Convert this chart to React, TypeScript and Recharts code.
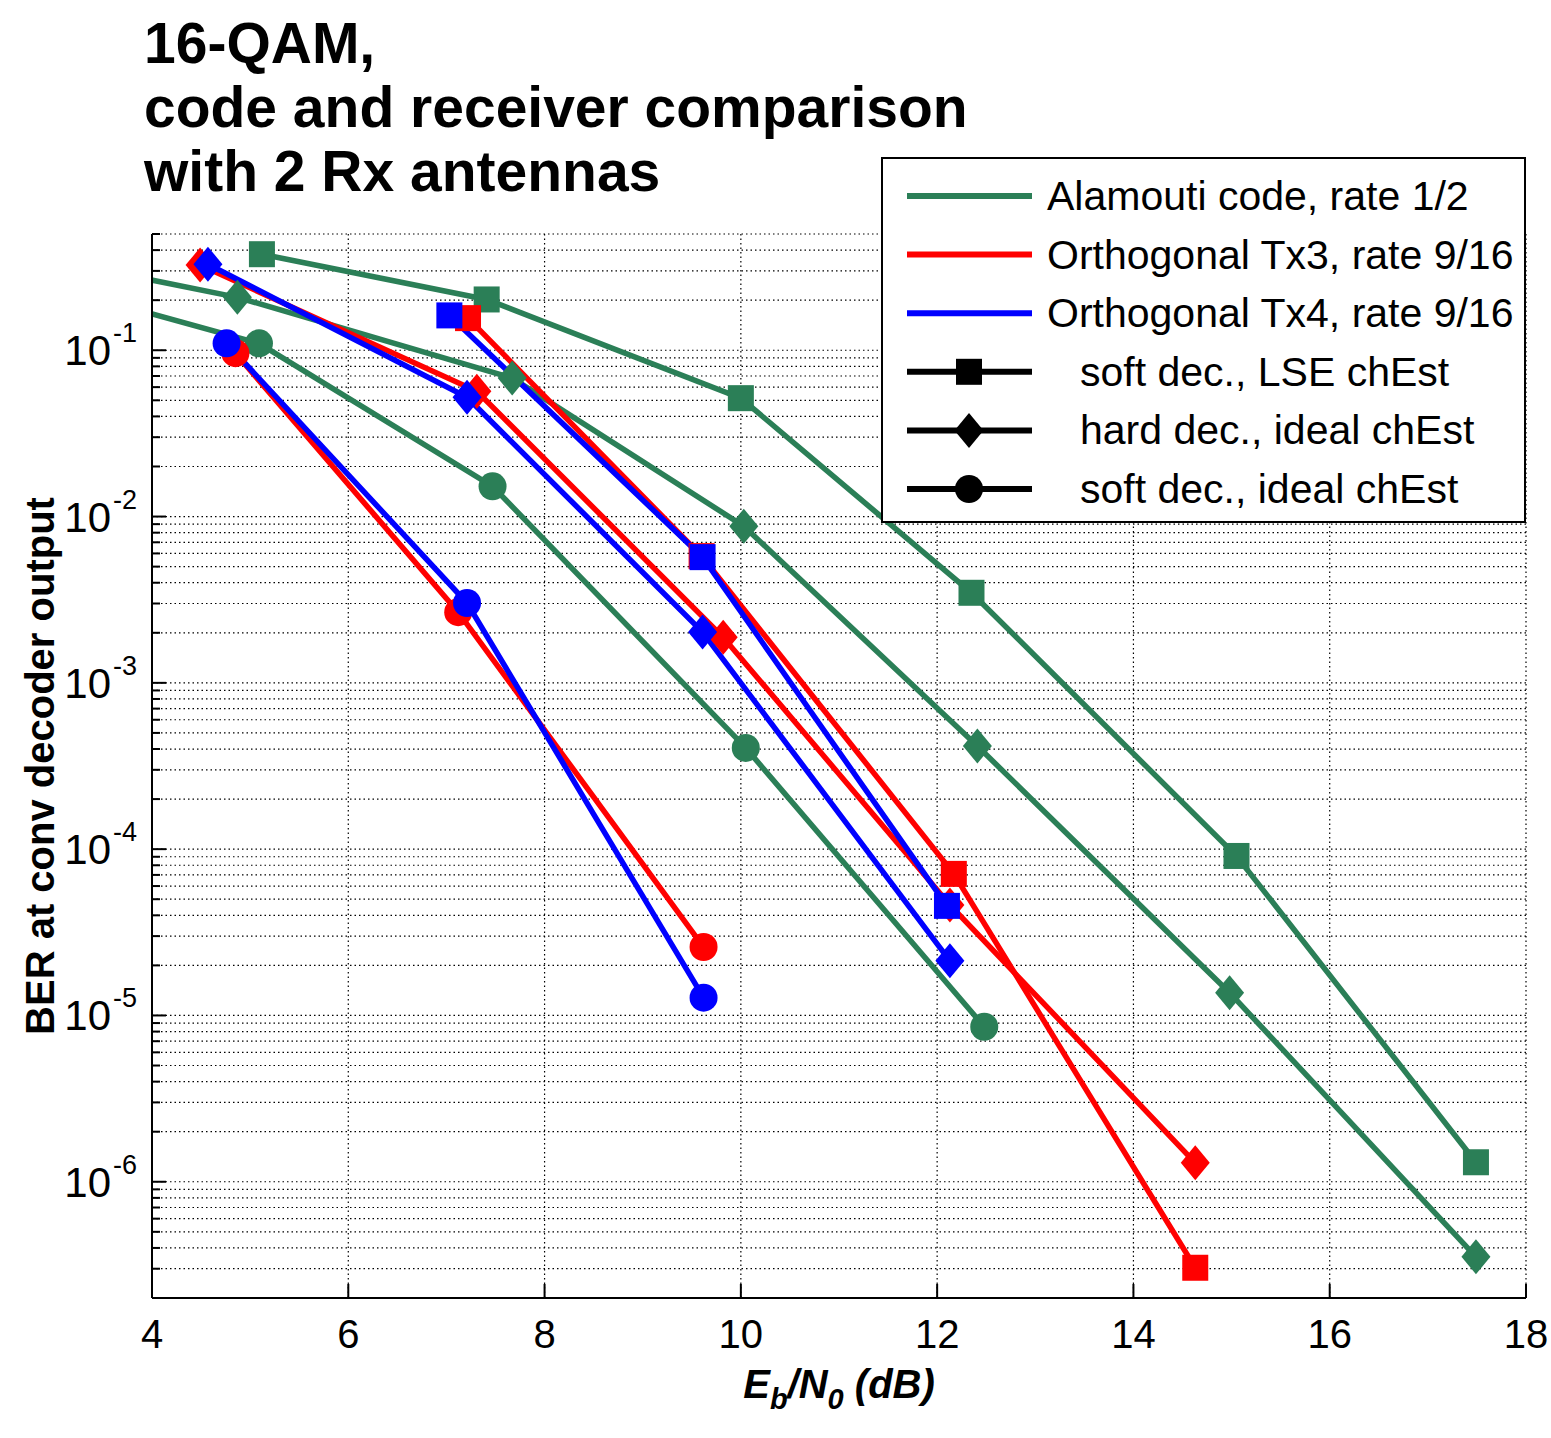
import React from 'react';
import { LineChart, Line, XAxis, YAxis, CartesianGrid } from 'recharts';

const FONT = '"Liberation Sans", Arial, Helvetica, sans-serif';
const GREEN = '#2B7F57';
const RED = '#FF0000';
const BLUE = '#0000FF';

// Eb/N0 (dB) and BER
// Alamouti code, rate 1/2
const alamoutiLseEbN0 = [5.12, 7.41, 10.0, 12.35, 15.05, 17.49];
const alamoutiLseBer = [0.378, 0.202, 0.0515, 0.00348, 9.1e-5, 1.31e-6];
const alamoutiHardEbN0 = [2.4, 4.87, 7.67, 10.03, 12.41, 14.98, 17.49];
const alamoutiHardBer = [0.41, 0.208, 0.068, 0.00875, 4.17e-4, 1.37e-5, 3.54e-7];
const alamoutiSoftEbN0 = [2.6, 5.09, 7.47, 10.05, 12.48];
const alamoutiSoftBer = [0.28, 0.11, 0.0152, 4.06e-4, 8.55e-6];

// Orthogonal Tx3, rate 9/16
const tx3LseEbN0 = [7.22, 9.6, 12.17, 14.63];
const tx3LseBer = [0.156, 0.00578, 7.1e-5, 3.04e-7];
const tx3HardEbN0 = [4.49, 7.31, 9.82, 12.13, 14.63];
const tx3HardBer = [0.325, 0.0567, 0.00188, 4.62e-5, 1.3e-6];
const tx3SoftEbN0 = [4.85, 7.12, 9.62];
const tx3SoftBer = [0.096, 0.00266, 2.58e-5];

// Orthogonal Tx4, rate 9/16
const tx4LseEbN0 = [7.03, 9.61, 12.1];
const tx4LseBer = [0.162, 0.0057, 4.56e-5];
const tx4HardEbN0 = [4.57, 7.21, 9.61, 12.13];
const tx4HardBer = [0.329, 0.0522, 0.00202, 2.13e-5];
const tx4SoftEbN0 = [4.76, 7.21, 9.62];
const tx4SoftBer = [0.11, 0.00302, 1.28e-5];

const xTicks = [4, 6, 8, 10, 12, 14, 16, 18];
const yDomain: [number, number] = [2e-7, 0.5];

const titleLines = ['16-QAM,', 'code and receiver comparison', 'with 2 Rx antennas'];
const codeLegend = [
  { label: 'Alamouti code, rate 1/2', color: GREEN },
  { label: 'Orthogonal Tx3, rate 9/16', color: RED },
  { label: 'Orthogonal Tx4, rate 9/16', color: BLUE },
];
const markerLegend: { label: string; shape: Shape }[] = [
  { label: 'soft dec., LSE chEst', shape: 'square' },
  { label: 'hard dec., ideal chEst', shape: 'diamond' },
  { label: 'soft dec., ideal chEst', shape: 'circle' },
];

type Shape = 'square' | 'diamond' | 'circle';

// log grid: 1..9 x 10^k inside the domain
const yTicks: number[] = [];
for (let k = -7; k <= -1; k++) {
  for (let m = 1; m <= 9; m++) {
    const v = m * Math.pow(10, k);
    if (v >= yDomain[0] * 0.999 && v <= yDomain[1] * 1.001) yTicks.push(v);
  }
}

const toPoints = (xs: number[], ys: number[]) => xs.map((x, i) => ({ x, ber: ys[i] }));

const series: { id: string; color: string; shape: Shape; pts: { x: number; ber: number }[] }[] = [
  { id: 'ala-lse', color: GREEN, shape: 'square', pts: toPoints(alamoutiLseEbN0, alamoutiLseBer) },
  { id: 'ala-hard', color: GREEN, shape: 'diamond', pts: toPoints(alamoutiHardEbN0, alamoutiHardBer) },
  { id: 'ala-soft', color: GREEN, shape: 'circle', pts: toPoints(alamoutiSoftEbN0, alamoutiSoftBer) },
  { id: 'tx3-lse', color: RED, shape: 'square', pts: toPoints(tx3LseEbN0, tx3LseBer) },
  { id: 'tx3-hard', color: RED, shape: 'diamond', pts: toPoints(tx3HardEbN0, tx3HardBer) },
  { id: 'tx3-soft', color: RED, shape: 'circle', pts: toPoints(tx3SoftEbN0, tx3SoftBer) },
  { id: 'tx4-lse', color: BLUE, shape: 'square', pts: toPoints(tx4LseEbN0, tx4LseBer) },
  { id: 'tx4-hard', color: BLUE, shape: 'diamond', pts: toPoints(tx4HardEbN0, tx4HardBer) },
  { id: 'tx4-soft', color: BLUE, shape: 'circle', pts: toPoints(tx4SoftEbN0, tx4SoftBer) },
];

function Marker({ cx, cy, shape, color }: { cx: number; cy: number; shape: Shape; color: string }) {
  if (shape === 'square') {
    return <rect x={cx - 13} y={cy - 13} width={26} height={26} fill={color} />;
  }
  if (shape === 'diamond') {
    return (
      <polygon
        points={`${cx},${cy - 17.5} ${cx + 14.5},${cy} ${cx},${cy + 17.5} ${cx - 14.5},${cy}`}
        fill={color}
      />
    );
  }
  return <circle cx={cx} cy={cy} r={14} fill={color} />;
}

const isDecade = (v: number) => Math.abs(Math.log10(v) - Math.round(Math.log10(v))) < 1e-6;

function BottomTick(props: any) {
  const { x, y, payload } = props;
  return (
    <g>
      <line x1={x} y1={y} x2={x} y2={y - 14} stroke="#000" strokeWidth={2} />
      <text x={x} y={y + 50} textAnchor="middle" fontSize={40} fontFamily={FONT} fill="#000">
        {payload.value}
      </text>
    </g>
  );
}

function TopTick(props: any) {
  const { x, y } = props;
  return <line x1={x} y1={y} x2={x} y2={y + 14} stroke="#000" strokeWidth={2} />;
}

function LeftTick(props: any) {
  const { x, y, payload } = props;
  const major = isDecade(payload.value);
  return (
    <g>
      <line x1={x} y1={y} x2={x + (major ? 14 : 8)} y2={y} stroke="#000" strokeWidth={2} />
      {major && (
        <g fontFamily={FONT} fill="#000">
          <text x={x - 41} y={y + 15} textAnchor="end" fontSize={42}>
            10
          </text>
          <text x={x - 39} y={y - 8} fontSize={27}>
            {String(Math.round(Math.log10(payload.value)))}
          </text>
        </g>
      )}
    </g>
  );
}

function RightTick(props: any) {
  const { x, y, payload } = props;
  const major = isDecade(payload.value);
  return <line x1={x} y1={y} x2={x - (major ? 14 : 8)} y2={y} stroke="#000" strokeWidth={2} />;
}

const axisLine = { stroke: '#000', strokeWidth: 2 };

export default function App() {
  return (
    <div style={{ position: 'relative', width: 1551, height: 1438, background: '#fff' }}>
      <style>{'body{margin:0}'}</style>
      <LineChart width={1551} height={1438} margin={{ top: 234, right: 25, bottom: 80, left: 52 }}>
        <CartesianGrid stroke="#000" strokeWidth={1.2} strokeDasharray="1.5 3" />
        <XAxis
          type="number"
          dataKey="x"
          domain={[4, 18]}
          ticks={xTicks}
          interval={0}
          allowDataOverflow
          height={60}
          tickSize={0}
          tickMargin={0}
          tickLine={false}
          axisLine={axisLine}
          tick={BottomTick}
          label={{
            content: (p: any) => {
              const vb = p.viewBox;
              return (
                <text
                  x={vb.x + vb.width / 2}
                  y={vb.y + 100}
                  textAnchor="middle"
                  fontSize={40}
                  fontWeight="bold"
                  fontStyle="italic"
                  fontFamily={FONT}
                  fill="#000"
                >
                  E<tspan fontSize={29} dy={11}>b</tspan>
                  <tspan dy={-11}>/N</tspan>
                  <tspan fontSize={29} dy={11}>0</tspan>
                  <tspan dy={-11}> (dB)</tspan>
                </text>
              );
            },
          }}
        />
        <XAxis
          xAxisId="top"
          orientation="top"
          type="number"
          dataKey="x"
          domain={[4, 18]}
          ticks={xTicks}
          interval={0}
          allowDataOverflow
          height={0}
          tickSize={0}
          tickMargin={0}
          tickLine={false}
          axisLine={axisLine}
          tick={TopTick}
        />
        <YAxis
          type="number"
          scale="log"
          domain={yDomain}
          ticks={yTicks}
          interval={0}
          allowDataOverflow
          width={100}
          tickSize={0}
          tickMargin={0}
          tickLine={false}
          axisLine={axisLine}
          tick={LeftTick}
          label={{
            content: (p: any) => {
              const vb = p.viewBox;
              const cy = vb.y + vb.height / 2;
              return (
                <text
                  transform={`translate(${vb.x + 2},${cy}) rotate(-90)`}
                  textAnchor="middle"
                  fontSize={40}
                  fontWeight="bold"
                  fontFamily={FONT}
                  fill="#000"
                >
                  BER at conv decoder output
                </text>
              );
            },
          }}
        />
        <YAxis
          yAxisId="right"
          orientation="right"
          type="number"
          scale="log"
          domain={yDomain}
          ticks={yTicks}
          interval={0}
          allowDataOverflow
          width={0}
          tickSize={0}
          tickMargin={0}
          tickLine={false}
          axisLine={axisLine}
          tick={RightTick}
        />
        {series.map((s) => (
          <Line
            key={s.id}
            data={s.pts}
            dataKey="ber"
            type="linear"
            stroke={s.color}
            strokeWidth={5.5}
            isAnimationActive={false}
            legendType="none"
            dot={(p: any) => (
              <Marker key={`${s.id}-${p.index}`} cx={p.cx} cy={p.cy} shape={s.shape} color={s.color} />
            )}
          />
        ))}
      </LineChart>

      <svg
        width={1551}
        height={1438}
        style={{ position: 'absolute', left: 0, top: 0, pointerEvents: 'none' }}
        fontFamily={FONT}
      >
        {titleLines.map((t, i) => (
          <text key={t} x={144} y={63 + i * 64} fontSize={57} fontWeight="bold" fill="#000">
            {t}
          </text>
        ))}

        <rect x={882} y={158} width={643} height={364} fill="#fff" stroke="#000" strokeWidth={2} />
        {codeLegend.map((e, i) => {
          const cy = 196 + i * 58.6;
          return (
            <g key={e.label}>
              <line x1={907} y1={cy} x2={1032} y2={cy} stroke={e.color} strokeWidth={6} />
              <text x={1047} y={cy + 14} fontSize={41} fill="#000">
                {e.label}
              </text>
            </g>
          );
        })}
        {markerLegend.map((e, i) => {
          const cy = 196 + (i + 3) * 58.6;
          return (
            <g key={e.label}>
              <line x1={907} y1={cy} x2={1032} y2={cy} stroke="#000" strokeWidth={6} />
              <Marker cx={969} cy={cy} shape={e.shape} color="#000" />
              <text x={1080} y={cy + 14} fontSize={41} fill="#000">
                {e.label}
              </text>
            </g>
          );
        })}
      </svg>
    </div>
  );
}
